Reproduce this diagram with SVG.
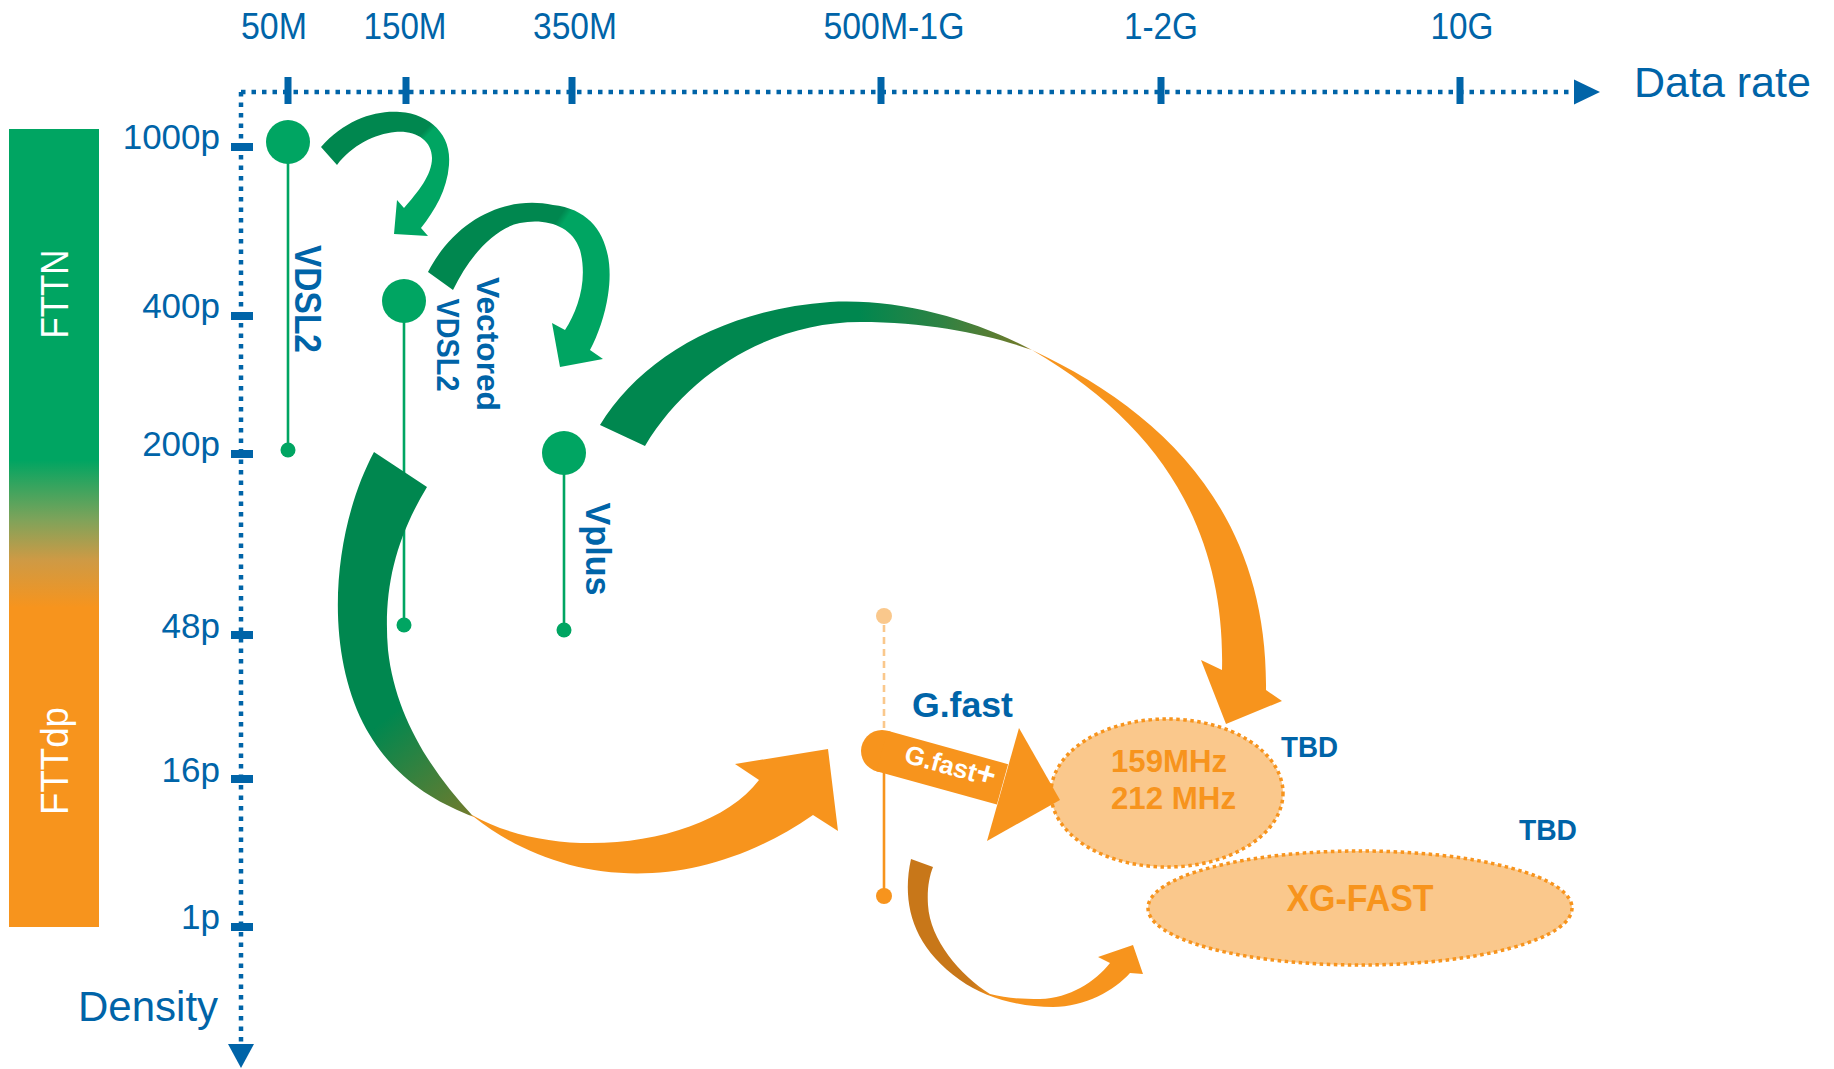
<svg xmlns="http://www.w3.org/2000/svg" width="1834" height="1069" viewBox="0 0 1834 1069">
<style>
  .ax{fill:none;stroke:#0064A8;stroke-width:4.5;stroke-dasharray:4.5 6}
  .tk{fill:#0064A8}
  .lbl{font-family:"Liberation Sans",Arial,sans-serif;fill:#0064A8}
  .bold{font-weight:bold}
  .stem{stroke:#00A562;stroke-width:2.6}
  .dot{fill:#00A562}
  .ell{fill:#FAC88C;stroke:#F7941D;stroke-width:3.5;stroke-dasharray:3.5 3.5}
  .etxt{font-family:"Liberation Sans",Arial,sans-serif;font-weight:bold;fill:#F7941D}
  .wt{font-family:"Liberation Sans",Arial,sans-serif;fill:#FFFFFF}
</style>
<defs>
  <linearGradient id="barGrad" gradientUnits="userSpaceOnUse" x1="0" y1="129" x2="0" y2="927">
    <stop offset="0.415" stop-color="#00A562"/>
    <stop offset="0.49" stop-color="#7FA35A"/>
    <stop offset="0.54" stop-color="#CE9A45"/>
    <stop offset="0.6" stop-color="#F7941D"/>
  </linearGradient>
  <linearGradient id="gA" gradientUnits="userSpaceOnUse" x1="430" y1="125" x2="434" y2="129">
    <stop offset="0" stop-color="#00874F"/>
    <stop offset="1" stop-color="#00A562"/>
  </linearGradient>
  <linearGradient id="gB" gradientUnits="userSpaceOnUse" x1="565" y1="208" x2="571" y2="212">
    <stop offset="0" stop-color="#00874F"/>
    <stop offset="1" stop-color="#00A562"/>
  </linearGradient>
  <linearGradient id="gC" gradientUnits="userSpaceOnUse" x1="600" y1="0" x2="1282" y2="0">
    <stop offset="0" stop-color="#00874F"/>
    <stop offset="0.38" stop-color="#00874F"/>
    <stop offset="0.5" stop-color="#2E8243"/>
    <stop offset="0.623" stop-color="#727A2A"/>
    <stop offset="0.636" stop-color="#F7941D"/>
    <stop offset="1" stop-color="#F7941D"/>
  </linearGradient>
  <linearGradient id="gD" gradientUnits="userSpaceOnUse" x1="380" y1="700" x2="475" y2="818">
    <stop offset="0" stop-color="#00874F"/>
    <stop offset="0.12" stop-color="#00874F"/>
    <stop offset="0.96" stop-color="#6E7B2D"/>
    <stop offset="0.985" stop-color="#F7941D"/>
  </linearGradient>
  <linearGradient id="gE" gradientUnits="userSpaceOnUse" x1="972" y1="0" x2="995" y2="0">
    <stop offset="0" stop-color="#C87719"/>
    <stop offset="1" stop-color="#F7941D"/>
  </linearGradient>
</defs>
<rect width="1834" height="1069" fill="#FFFFFF"/>

<g id="density-bar">
  <rect x="9" y="129" width="90" height="798" fill="url(#barGrad)"/>
  <text class="wt" font-size="38" text-anchor="middle" textLength="89" lengthAdjust="spacingAndGlyphs" transform="translate(68,294) rotate(-90)">FTTN</text>
  <text class="wt" font-size="38" text-anchor="middle" textLength="108" lengthAdjust="spacingAndGlyphs" transform="translate(68,761) rotate(-90)">FTTdp</text>
</g>

<g id="axes">
  <line class="ax" x1="241" y1="92" x2="1576" y2="92"/>
  <line class="ax" x1="241" y1="92" x2="241" y2="1046"/>
  <polygon class="tk" points="1574,79.5 1600,92 1574,104.5"/>
  <polygon class="tk" points="228,1044 254,1044 241,1068"/>
  <rect class="tk" x="284.5" y="77" width="7" height="27"/>
  <rect class="tk" x="402.5" y="77" width="7" height="27"/>
  <rect class="tk" x="568.5" y="77" width="7" height="27"/>
  <rect class="tk" x="877.5" y="77" width="7" height="27"/>
  <rect class="tk" x="1157.5" y="77" width="7" height="27"/>
  <rect class="tk" x="1456.5" y="77" width="7" height="27"/>
  <rect class="tk" x="231" y="143" width="22" height="8"/>
  <rect class="tk" x="231" y="312" width="22" height="8"/>
  <rect class="tk" x="231" y="450" width="22" height="8"/>
  <rect class="tk" x="231" y="631" width="22" height="8"/>
  <rect class="tk" x="231" y="775" width="22" height="8"/>
  <rect class="tk" x="231" y="923" width="22" height="8"/>
  <g class="lbl" font-size="36" text-anchor="middle" lengthAdjust="spacingAndGlyphs">
    <text x="274" y="39" textLength="66" lengthAdjust="spacingAndGlyphs">50M</text>
    <text x="405" y="39" textLength="83" lengthAdjust="spacingAndGlyphs">150M</text>
    <text x="575" y="39" textLength="84" lengthAdjust="spacingAndGlyphs">350M</text>
    <text x="894" y="39" textLength="141" lengthAdjust="spacingAndGlyphs">500M-1G</text>
    <text x="1161" y="39" textLength="74" lengthAdjust="spacingAndGlyphs">1-2G</text>
    <text x="1462" y="39" textLength="63" lengthAdjust="spacingAndGlyphs">10G</text>
  </g>
  <g class="lbl" font-size="35" text-anchor="end">
    <text x="220" y="149">1000p</text>
    <text x="220" y="318">400p</text>
    <text x="220" y="456">200p</text>
    <text x="220" y="638">48p</text>
    <text x="220" y="782">16p</text>
    <text x="220" y="929">1p</text>
  </g>
  <text class="lbl" x="1634" y="97" font-size="43">Data rate</text>
  <text class="lbl" x="78" y="1021" font-size="42">Density</text>
</g>

<g id="node-vdsl2">
  <line class="stem" x1="288" y1="142" x2="288" y2="450"/>
  <circle class="dot" cx="288" cy="142" r="22"/>
  <circle class="dot" cx="288" cy="450" r="7.5"/>
  <text class="lbl bold" font-size="37" text-anchor="middle" textLength="108" lengthAdjust="spacingAndGlyphs" transform="translate(295,299) rotate(90)">VDSL2</text>
</g>

<g id="node-vectored-vdsl2">
  <line class="stem" x1="404" y1="301" x2="404" y2="625"/>
  <circle class="dot" cx="404" cy="301" r="22"/>
  <circle class="dot" cx="404" cy="625" r="7.5"/>
  <text class="lbl bold" font-size="32" text-anchor="middle" textLength="134" lengthAdjust="spacingAndGlyphs" transform="translate(477,344) rotate(90)">Vectored</text>
  <text class="lbl bold" font-size="32" text-anchor="middle" textLength="93" lengthAdjust="spacingAndGlyphs" transform="translate(437,345) rotate(90)">VDSL2</text>
</g>

<g id="node-vplus">
  <line class="stem" x1="564" y1="453" x2="564" y2="630"/>
  <circle class="dot" cx="564" cy="453" r="22"/>
  <circle class="dot" cx="564" cy="630" r="7.5"/>
  <text class="lbl bold" font-size="35" text-anchor="middle" textLength="93" lengthAdjust="spacingAndGlyphs" transform="translate(586,549) rotate(90)">Vplus</text>
</g>

<g id="node-gfast">
  <line x1="884" y1="625" x2="884" y2="732" stroke="#FAC88C" stroke-width="2.6" stroke-dasharray="7 5"/>
  <circle cx="884" cy="616" r="8" fill="#FAC88C"/>
  <line x1="884" y1="770" x2="884" y2="896" stroke="#F7941D" stroke-width="2.6"/>
  <circle cx="884" cy="896" r="8" fill="#F7941D"/>
  <text class="lbl bold" x="912" y="717" font-size="35" textLength="101" lengthAdjust="spacingAndGlyphs">G.fast</text>
</g>

<g id="node-159-212mhz">
  <ellipse class="ell" cx="1167" cy="793" rx="116" ry="74"/>
  <text class="etxt" x="1111" y="772" font-size="32" textLength="116" lengthAdjust="spacingAndGlyphs">159MHz</text>
  <text class="etxt" x="1111" y="809" font-size="32" textLength="125" lengthAdjust="spacingAndGlyphs">212 MHz</text>
  <text class="lbl bold" x="1281" y="757" font-size="30" textLength="57" lengthAdjust="spacingAndGlyphs">TBD</text>
</g>

<g id="node-xg-fast">
  <ellipse class="ell" cx="1360" cy="908" rx="212" ry="57"/>
  <text class="etxt" x="1360" y="911" font-size="37" text-anchor="middle" textLength="147" lengthAdjust="spacingAndGlyphs">XG-FAST</text>
  <text class="lbl bold" x="1519" y="840" font-size="30" textLength="58" lengthAdjust="spacingAndGlyphs">TBD</text>
</g>

<g id="connectors">
  <!-- VDSL2 -> Vectored VDSL2 -->
  <path fill="url(#gA)" d="M 321 147 C 345 120, 375 110, 400 112 C 430 114, 452 135, 449 165 C 447 190, 435 210, 421 228 L 428 236 L 394 234 L 397 200 L 404 208 C 418 192, 432 175, 432 158 C 432 140, 415 130, 395 132 C 375 134, 352 145, 337 165 Z"/>
  <!-- Vectored VDSL2 -> Vplus -->
  <path fill="url(#gB)" d="M 428 272 C 455 220, 505 195, 553 205 C 600 210, 615 250, 608 295 C 605 315, 598 335, 590 350 L 603 359 L 560 367 L 552 323 L 565 330 C 578 310, 588 280, 580 250 C 572 225, 545 218, 520 223 C 495 228, 470 255, 453 290 Z"/>
  <!-- Vplus -> 159/212 MHz -->
  <path fill="url(#gC)" d="M 600 425 C 640 360, 720 310, 830 302 C 900 298, 975 320, 1032 350 C 1160 410, 1268 510, 1266 690 L 1282 701 L 1226 724 L 1201 660 L 1222 670 C 1225 540, 1170 430, 1032 350 C 990 335, 930 322, 860 322 C 775 322, 690 370, 645 446 Z"/>
  <!-- Vectored VDSL2 -> G.fast -->
  <path fill="url(#gD)" d="M 374 452 C 335 525, 322 640, 363 723 C 390 775, 430 800, 474 817 C 560 885, 690 900, 813 815 L 838 831 L 828 749 L 735 764 L 759 780 C 710 845, 560 865, 472 815 C 430 770, 395 715, 388 650 C 383 590, 395 540, 427 487 Z"/>
  <!-- G.fast -> XG-FAST -->
  <path fill="url(#gE)" d="M 911 859 C 902 900, 910 945, 960 980 C 985 998, 1020 1007, 1053 1007 C 1085 1007, 1115 990, 1130 973 L 1143 974 L 1133 945 L 1098 957 L 1110 963 C 1095 982, 1070 998, 1040 999 C 1020 999, 1005 998, 990 994 C 960 975, 930 940, 928 905 C 927 890, 929 877, 933 867 Z"/>
  <!-- G.fast+ arrow -->
  <g id="gfast-plus">
    <circle cx="882" cy="751" r="21" fill="#F7941D"/>
    <polygon fill="#F7941D" points="887.6,730.8 1008.1,764.2 996.9,804.6 876.4,771.2"/>
    <polygon fill="#F7941D" points="1019,728 1060,800 987,841"/>
    <text class="wt bold" font-size="26" transform="translate(903,762) rotate(15.5)">G.fast<tspan font-size="33">+</tspan></text>
  </g>
</g>
</svg>
